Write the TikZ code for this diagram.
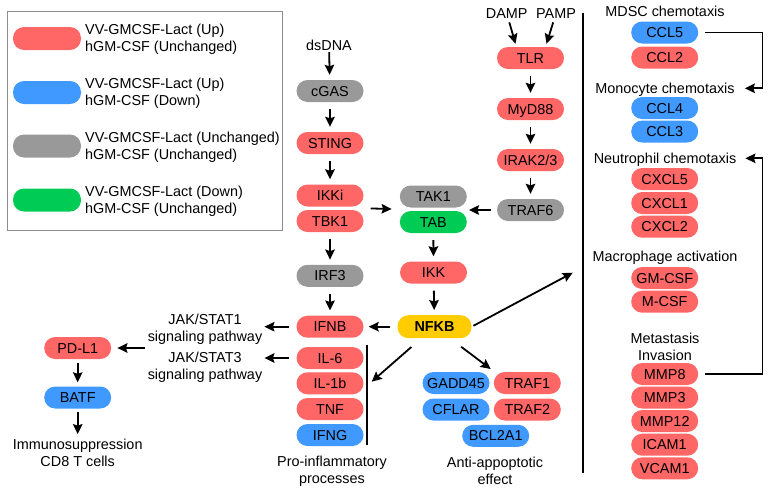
\documentclass[tikz,border=0pt]{standalone}
\usepackage{fontspec}
\setmainfont{Liberation Sans}
\usetikzlibrary{arrows.meta,calc}
\definecolor{pred}{RGB}{255,102,102}
\definecolor{pblue}{RGB}{64,153,255}
\definecolor{pgray}{RGB}{153,153,153}
\definecolor{pgreen}{RGB}{0,204,85}
\definecolor{pyellow}{RGB}{255,204,0}
\definecolor{boxgray}{RGB}{140,140,140}
\begin{document}
\begin{tikzpicture}[x=1pt,y=-1pt,
  font=\fontsize{14.4}{16.8}\selectfont,
  pill/.style={rectangle, rounded corners=11pt, minimum width=67pt, minimum height=22pt,
    inner sep=0pt, text height=10pt, text depth=0pt},
  red/.style={pill, fill=pred},
  blue/.style={pill, fill=pblue},
  gray/.style={pill, fill=pgray},
  green/.style={pill, fill=pgreen},
  lbl/.style={inner sep=1pt, text height=10pt, text depth=0pt},
  mlbl/.style={inner sep=1pt, align=center},
  arr/.style={line width=1.8pt, -{Stealth[length=10pt,width=9.5pt,inset=1.5pt]},
    shorten <=7pt, shorten >=5pt},
  plain/.style={line width=1.8pt},
  legtext/.style={inner sep=0pt, align=left, anchor=west}]
\useasboundingbox (0,0) rectangle (773,491);

% legend
\draw[boxgray, line width=0.8pt] (7,11) rectangle (282,230);
\node[pill, fill=pred,  minimum width=68pt, minimum height=23pt] (lr) at (47,38.5) {};
\node[pill, fill=pblue, minimum width=68pt, minimum height=23pt] (lb) at (47,92.5) {};
\node[pill, fill=pgray, minimum width=68pt, minimum height=23pt] (lg) at (47,146) {};
\node[pill, fill=pgreen,minimum width=68pt, minimum height=23pt] (ln) at (47,200) {};
\node[legtext] (tr) at (85,39.5) {VV-GMCSF-Lact (Up)\\hGM-CSF (Unchanged)};
\node[legtext] (tb) at (85,93.5) {VV-GMCSF-Lact (Up)\\hGM-CSF (Down)};
\node[legtext] (tg) at (85,147) {VV-GMCSF-Lact (Unchanged)\\hGM-CSF (Unchanged)};
\node[legtext] (tn) at (85,201) {VV-GMCSF-Lact (Down)\\hGM-CSF (Unchanged)};

% cGAS-STING branch
\node[lbl] (dsDNA) at (329,45) {dsDNA};
\node[gray] (cGAS) at (330,91) {cGAS};
\node[red] (STING) at (330,143) {STING};
\node[red] (IKKi) at (330,195.5) {IKKi};
\node[red] (TBK1) at (330,221) {TBK1};
\node[gray] (IRF3) at (330,275.8) {IRF3};
\node[red] (IFNB) at (330,326.7) {IFNB};
\node[red] (IL6) at (330,358) {IL-6};
\node[red] (IL1b) at (330,383.3) {IL-1b};
\node[red] (TNF) at (330,409) {TNF};
\node[blue] (IFNG) at (330,435) {IFNG};
\node[mlbl] (proinf) at (332,471) {Pro-inflammatory\\processes};

% TLR branch
\node[lbl] (DAMP) at (506.7,13.3) {DAMP};
\node[lbl] (PAMP) at (556,13.3) {PAMP};
\node[red] (TLR) at (530.5,58) {TLR};
\node[red] (MyD88) at (530.5,109) {MyD88};
\node[red] (IRAK) at (530.5,160) {IRAK2/3};
\node[gray] (TRAF6) at (530.5,210) {TRAF6};

% middle
\node[gray] (TAK1) at (433.3,196.5) {TAK1};
\node[green] (TAB) at (433.3,222) {TAB};
\node[red] (IKK) at (433.5,272.5) {IKK};
\node[pill, fill=pyellow, minimum width=74pt, minimum height=23pt, font=\fontsize{14.4}{16.8}\selectfont\bfseries] (NFKB) at (434.5,326.7) {NFKB};
\node[blue] (GADD45) at (456,383) {GADD45};
\node[red] (TRAF1) at (527.3,383) {TRAF1};
\node[blue] (CFLAR) at (456,409.5) {CFLAR};
\node[red] (TRAF2) at (527.3,409.5) {TRAF2};
\node[blue] (BCL2A1) at (495.7,435.8) {BCL2A1};
\node[mlbl] (anti) at (495,471) {Anti-appoptotic\\effect};

% left
\node[mlbl] (jak1) at (205,329) {JAK/STAT1\\signaling pathway};
\node[mlbl] (jak3) at (205,367.5) {JAK/STAT3\\signaling pathway};
\node[red] (PDL1) at (77.7,348) {PD-L1};
\node[blue] (BATF) at (77.7,397.5) {BATF};
\node[mlbl] (immuno) at (77.7,453) {Immunosuppression\\CD8 T cells};

% right column
\node[lbl] (MDSC) at (665,11.7) {MDSC chemotaxis};
\node[blue] (CCL5) at (664.7,32.5) {CCL5};
\node[red] (CCL2) at (664.7,57.5) {CCL2};
\node[lbl] (mono) at (665,88.3) {Monocyte chemotaxis};
\node[blue] (CCL4) at (664.7,108) {CCL4};
\node[blue] (CCL3) at (664.7,131.5) {CCL3};
\node[lbl] (neutro) at (665,158.3) {Neutrophil chemotaxis};
\node[red] (CXCL5) at (664.7,179) {CXCL5};
\node[red] (CXCL1) at (664.7,203) {CXCL1};
\node[red] (CXCL2) at (664.7,226.7) {CXCL2};
\node[lbl] (macro) at (665,256) {Macrophage activation};
\node[red] (GMCSF) at (664.7,278) {GM-CSF};
\node[red] (MCSF) at (664.7,301.7) {M-CSF};
\node[mlbl] (meta) at (665,346.5) {Metastasis\\Invasion};
\node[red] (MMP8) at (664.7,374) {MMP8};
\node[red] (MMP3) at (664.7,397.5) {MMP3};
\node[red] (MMP12) at (664.7,421) {MMP12};
\node[red] (ICAM1) at (664.7,444.7) {ICAM1};
\node[red] (VCAM1) at (664.7,468.3) {VCAM1};

% separator lines and arrow targets
\coordinate (sepT) at (583.3,12.7);
\coordinate (sepB) at (583.3,473);
\draw[plain] (sepT) -- (sepB);
\coordinate (pl1) at (367.3,345);
\coordinate (pl2) at (367.3,445);
\draw[plain] (pl1) -- (pl2);
\coordinate (proin) at (371.7,381.7);
\coordinate (antiin) at (490.7,369);
\coordinate (rightin) at (572.7,272.7);

% connectors
\draw[arr, shorten <=1pt] (dsDNA) -- (cGAS);
\draw[arr] (cGAS) -- (STING);
\draw[arr] (STING) -- (IKKi);
\draw[arr] (TBK1) -- (IRF3);
\draw[arr] (IRF3) -- (IFNB);
\draw[arr, shorten <=7pt, shorten >=8pt] ($(IKKi.east)!0.5!(TBK1.east)$) -- ($(TAK1.west)!0.5!(TAB.west)$);
\draw[arr, shorten <=6pt, shorten >=2pt] (TRAF6.west) -- (TRAF6.west -| TAK1.east);
\draw[arr, shorten <=3pt, shorten >=0pt] (DAMP) -- ($(TLR.north)+(-15,-3)$);
\draw[arr, shorten <=3pt, shorten >=0pt] (PAMP) -- ($(TLR.north)+(16,-3)$);
\draw[arr] (TLR) -- (MyD88);
\draw[arr] (MyD88) -- (IRAK);
\draw[arr] (IRAK) -- (TRAF6);
\draw[arr] (TAB) -- (IKK);
\draw[arr] (IKK) -- (NFKB);
\draw[arr, shorten <=7pt, shorten >=5pt] (NFKB.west) -- (NFKB.west -| IFNB.east);
\draw[arr, shorten <=13pt, shorten >=0pt] (NFKB) -- (proin);
\draw[arr, shorten <=14pt, shorten >=0pt] (NFKB) -- (antiin);
\draw[arr, shorten <=2pt, shorten >=0pt] (NFKB.east) -- (rightin);
\draw[arr, shorten <=7pt, shorten >=1pt] (IFNB.west) -- (IFNB.west -| jak1.east);
\draw[arr, shorten <=7pt, shorten >=1pt] (IL6.west) -- (IL6.west -| jak3.east);
\draw[arr, shorten <=2pt, shorten >=6pt] (jak1.west |- PDL1.east) -- (PDL1.east);
\draw[arr, shorten <=4pt, shorten >=4pt] (PDL1) -- (BATF);
\draw[arr, shorten <=3pt, shorten >=4pt] (BATF) -- (immuno);
\draw[arr, shorten <=7pt, shorten >=9pt] (CCL5.east) -- ++(64,0) |- (mono.east);
\draw[arr, shorten <=7pt, shorten >=8pt] (MMP8.east) -- ++(64,0) |- (neutro.east);
\end{tikzpicture}
\end{document}
